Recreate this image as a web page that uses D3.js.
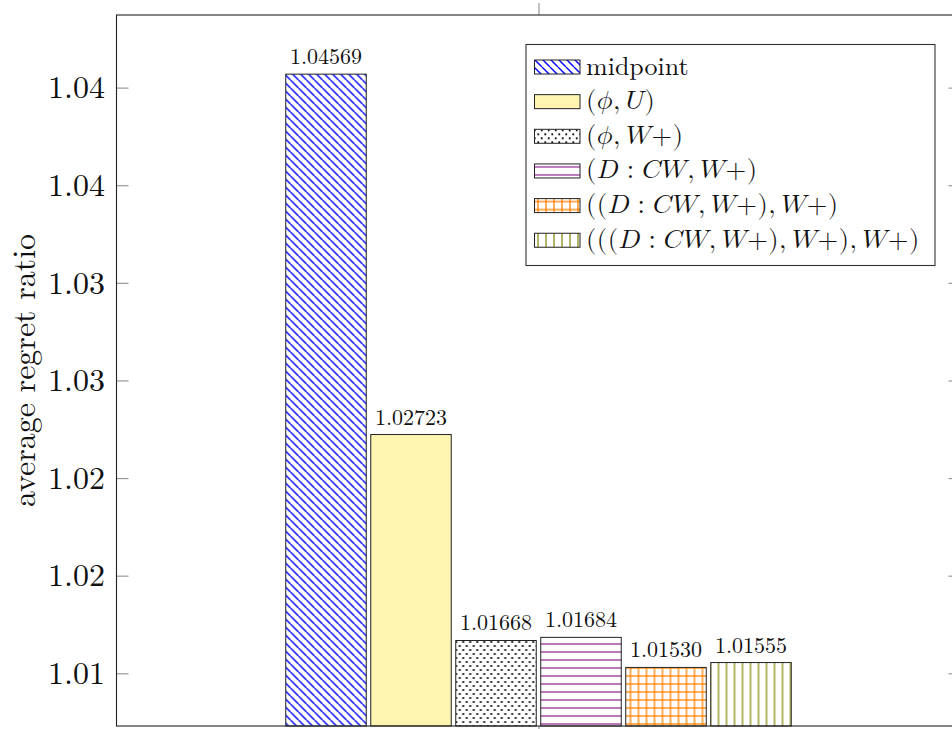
<!DOCTYPE html>
<html>
<head>
<meta charset="utf-8">
<script src="https://cdn.jsdelivr.net/npm/d3@7/dist/d3.min.js"></script>
<style>
  html, body { margin: 0; padding: 0; background: #fff; }
  svg { display: block; }
</style>
</head>
<body>
<svg id="chart" width="952" height="729"></svg>
<script>
// ---- data ----
const categories = ["all"];
const seriesNames = [
  "midpoint",
  "(𝜙, 𝑈)",
  "(𝜙, 𝑊+)",
  "(𝐷 : 𝐶𝑊, 𝑊+)",
  "((𝐷 : 𝐶𝑊, 𝑊+), 𝑊+)",
  "(((𝐷 : 𝐶𝑊, 𝑊+), 𝑊+), 𝑊+)"
];
const seriesValues = [1.04569, 1.02723, 1.01668, 1.01684, 1.01530, 1.01555];
const valueLabels = ["1.04569", "1.02723", "1.01668", "1.01684", "1.01530", "1.01555"];
const yTickValues = [1.015, 1.02, 1.025, 1.03, 1.035, 1.04, 1.045];
const yTickLabels = ["1.01", "1.02", "1.02", "1.03", "1.03", "1.04", "1.04"];
const yDomain = [1.0123, 1.04872];

// ---- layout ----
const plot = { left: 116.5, right: 960.5, top: 15, bottom: 726 };
const groupWidth = 510;
const serif = "'Latin Modern Roman', 'Liberation Serif', serif";
const mathFont = "'Latin Modern Math', 'Latin Modern Roman', serif";

const svg = d3.select("#chart");

// ---- fill patterns ----
const defs = svg.append("defs");
function pat(id, w, h) {
  return defs.append("pattern").attr("id", id)
    .attr("patternUnits", "userSpaceOnUse")
    .attr("width", w).attr("height", h);
}
// north-west hatching, blue
{
  const p = pat("p-nw", 8, 8);
  p.append("rect").attr("width", 8).attr("height", 8).attr("fill", "#fff");
  [-8, 0, 8].forEach(dx =>
    p.append("line").attr("x1", dx).attr("y1", 0).attr("x2", dx + 8).attr("y2", 8)
      .attr("stroke", "#0000ff").attr("stroke-width", 1.35));
}
// dots
{
  const p = pat("p-dots", 7, 8);
  p.append("rect").attr("width", 7).attr("height", 8).attr("fill", "#fff");
  [[1.75, 2], [5.25, 6]].forEach(([cx, cy]) =>
    p.append("circle").attr("cx", cx).attr("cy", cy).attr("r", 1.1).attr("fill", "#000"));
}
// horizontal lines, purple
{
  const p = pat("p-hlines", 8, 8);
  p.append("rect").attr("width", 8).attr("height", 8).attr("fill", "#fff");
  p.append("line").attr("x1", 0).attr("x2", 8).attr("y1", 4).attr("y2", 4)
    .attr("stroke", "#a64ca6").attr("stroke-width", 1.5);
}
// grid, orange
{
  const p = pat("p-grid", 8, 8);
  p.append("rect").attr("width", 8).attr("height", 8).attr("fill", "#fff");
  p.append("line").attr("x1", 0).attr("x2", 8).attr("y1", 4).attr("y2", 4)
    .attr("stroke", "#ff8000").attr("stroke-width", 1.3);
  p.append("line").attr("x1", 4).attr("x2", 4).attr("y1", 0).attr("y2", 8)
    .attr("stroke", "#ff8000").attr("stroke-width", 1.3);
}
// vertical lines, olive
{
  const p = pat("p-vlines", 8, 8);
  p.append("rect").attr("width", 8).attr("height", 8).attr("fill", "#fff");
  p.append("line").attr("x1", 4).attr("x2", 4).attr("y1", 0).attr("y2", 8)
    .attr("stroke", "#808000").attr("stroke-width", 1.2);
}
const fills = ["url(#p-nw)", "#fff5b1", "url(#p-dots)", "url(#p-hlines)", "url(#p-grid)", "url(#p-vlines)"];
const barStroke = "#222";

// ---- scales ----
const x0 = d3.scalePoint().domain(categories).range([plot.left, plot.right]).padding(0.5);
const x1 = d3.scaleBand().domain(seriesNames)
  .range([-groupWidth / 2, groupWidth / 2])
  .paddingInner(0.053).paddingOuter(0.0265);
const y = d3.scaleLinear().domain(yDomain).range([plot.bottom, plot.top]);

// ---- bars ----
const bars = seriesNames.map((name, i) => ({ name, value: seriesValues[i], label: valueLabels[i], i }));
const group = svg.append("g").attr("transform", `translate(${x0(categories[0])},0)`);
group.selectAll("rect.bar").data(bars).join("rect")
  .attr("class", "bar")
  .attr("x", d => x1(d.name))
  .attr("y", d => y(d.value))
  .attr("width", x1.bandwidth())
  .attr("height", d => plot.bottom - y(d.value))
  .attr("fill", d => fills[d.i])
  .attr("stroke", barStroke)
  .attr("stroke-width", 1);

group.selectAll("text.val").data(bars).join("text")
  .attr("class", "val")
  .attr("x", d => x1(d.name) + x1.bandwidth() / 2)
  .attr("y", d => y(d.value) - 10)
  .attr("text-anchor", "middle")
  .style("font-size", "22px")
  .text(d => d.label);

// ---- axes ----
const tickColor = "#999";
const gLeft = svg.append("g").attr("transform", `translate(${plot.left},0)`)
  .call(d3.axisLeft(y).tickValues(yTickValues)
    .tickFormat((d, i) => yTickLabels[i]).tickSize(-12).tickPadding(11.5));
gLeft.select(".domain").remove();
gLeft.selectAll(".tick line").attr("stroke", tickColor).attr("stroke-width", 1.2);
gLeft.selectAll(".tick text").style("font-size", "32px").attr("dy", "0.32em");

const gRight = svg.append("g").attr("transform", `translate(${plot.right},0)`)
  .call(d3.axisRight(y).tickValues(yTickValues).tickFormat("").tickSize(-12));
gRight.select(".domain").remove();
gRight.selectAll(".tick line").attr("stroke", tickColor).attr("stroke-width", 1.2);

const gTop = svg.append("g").attr("transform", `translate(0,${plot.top})`)
  .call(d3.axisTop(x0).tickFormat("").tickSize(12));
gTop.select(".domain").remove();
gTop.selectAll(".tick line").attr("stroke", tickColor).attr("stroke-width", 1.2);

const gBottom = svg.append("g").attr("transform", `translate(0,${plot.bottom})`)
  .call(d3.axisBottom(x0).tickFormat("").tickSize(12));
gBottom.select(".domain").remove();
gBottom.selectAll(".tick line").attr("stroke", tickColor).attr("stroke-width", 1.2);

// frame
svg.append("rect")
  .attr("x", plot.left).attr("y", plot.top)
  .attr("width", plot.right - plot.left).attr("height", plot.bottom - plot.top)
  .attr("fill", "none").attr("stroke", "#222").attr("stroke-width", 1.1);

// y axis title
svg.append("text")
  .attr("transform", `translate(35,${(plot.top + plot.bottom) / 2}) rotate(-90)`)
  .attr("text-anchor", "middle")
  .style("font-size", "32px")
  .text("average regret ratio");

// ---- legend ----
const legend = svg.append("g").attr("transform", "translate(526,44.5)");
legend.append("rect").attr("width", 409).attr("height", 221)
  .attr("fill", "#fff").attr("stroke", "#333").attr("stroke-width", 1.1);

// TeX-like math spacing: thick space around ':' and thin space after ','
function mathText(sel, str) {
  if (!str.startsWith("(")) { sel.text(str); return; }
  sel.classed("math", true);
  const chars = Array.from(str);
  let pending = 0;
  chars.forEach((c, k) => {
    if (c === " ") {
      const prev = chars[k - 1], next = chars[k + 1];
      pending += (prev === ":" || next === ":") ? 7.5 : 5;
      return;
    }
    const t = sel.append("tspan").text(c);
    if (pending) t.attr("dx", pending);
    pending = 0;
  });
}

const rowStep = 34.65;
const rows = legend.selectAll("g.row").data(bars).join("g")
  .attr("class", "row")
  .attr("transform", d => `translate(0,${22.5 + d.i * rowStep})`);
rows.append("rect")
  .attr("x", 8.5).attr("y", -7).attr("width", 45.5).attr("height", 14)
  .attr("fill", d => fills[d.i]).attr("stroke", barStroke).attr("stroke-width", 1);
rows.append("text")
  .attr("x", 60).attr("y", 7.5)
  .style("font-size", "26px")
  .each(function (d) { mathText(d3.select(this), d.name); });

// one serif face for every label; math labels in the math face
svg.selectAll("text, tspan").style("font-family", serif).style("fill", "#111");
svg.selectAll("text.math").style("font-size", "26.5px").style("letter-spacing", "0.5px");
svg.selectAll("text.math, text.math tspan").style("font-family", mathFont);
</script>
</body>
</html>
